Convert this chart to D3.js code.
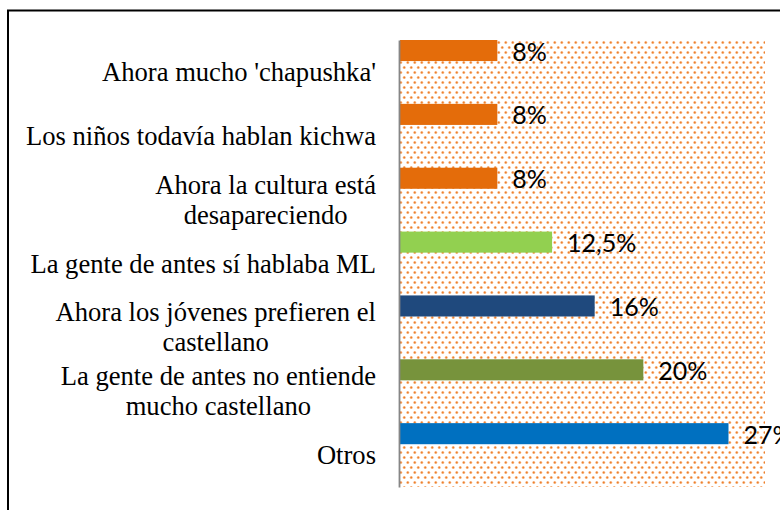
<!DOCTYPE html>
<html>
<head>
<meta charset="utf-8">
<script src="https://cdn.jsdelivr.net/npm/d3@7"></script>
<style>
  body { margin: 0; background: #fff; }
  svg { display: block; }
  .cat { font-family: "Liberation Serif", "DejaVu Serif", serif; font-size: 26.6px; }
  .val { font-family: Lato, "Open Sans", sans-serif; font-size: 25px; }
</style>
</head>
<body>
<div id="chart"></div>
<script>
const categories = [
  "Ahora mucho 'chapushka'",
  "Los niños todavía hablan kichwa",
  "Ahora la cultura está desapareciendo",
  "La gente de antes sí hablaba ML",
  "Ahora los jóvenes prefieren el castellano",
  "La gente de antes no entiende mucho castellano",
  "Otros"
];
const values = [8, 8, 8, 12.5, 16, 20, 27];
const valueLabels = ["8%", "8%", "8%", "12,5%", "16%", "20%", "27%"];
const barColors = ["#E46C0A", "#E46C0A", "#E46C0A", "#92D050", "#1F497D", "#77933C", "#0070C0"];

const width = 780, height = 510;
const plot = { left: 400, right: 765, top: 40, bottom: 487 };

let data = categories.map((c, i) => ({ cat: c, value: values[i], label: valueLabels[i], color: barColors[i] }));

let svg = d3.select("#chart")
  .append("svg")
  .attr("width", width)
  .attr("height", height);

// dotted background pattern
let pattern = svg.append("defs")
  .append("pattern")
  .attr("id", "dots")
  .attr("patternUnits", "userSpaceOnUse")
  .attr("width", 7)
  .attr("height", 10);
[[1.75, 2.5], [5.25, 7.5]].forEach(p => {
  pattern.append("circle").attr("cx", p[0]).attr("cy", p[1]).attr("r", 1.6).attr("fill", "#F9C9A2");
  pattern.append("circle").attr("cx", p[0]).attr("cy", p[1]).attr("r", 1).attr("fill", "#EE7F2C");
});

// outer frame
svg.append("rect")
  .attr("x", 8).attr("y", 10.5)
  .attr("width", 900).attr("height", 700)
  .attr("fill", "none")
  .attr("stroke", "#000")
  .attr("stroke-width", 2);

let x = d3.scaleLinear()
  .domain([0, 30])
  .range([plot.left, plot.right]);

let y = d3.scaleBand()
  .domain(categories)
  .range([plot.top, plot.bottom])
  .paddingInner(0);

let barH = y.bandwidth() * 0.33;

svg.append("rect")
  .attr("x", plot.left)
  .attr("y", plot.top)
  .attr("width", plot.right - plot.left)
  .attr("height", plot.bottom - plot.top)
  .attr("fill", "url(#dots)");

svg.selectAll("rect.bar")
  .data(data)
  .enter().append("rect")
  .attr("class", "bar")
  .attr("x", x(0))
  .attr("y", d => y(d.cat))
  .attr("width", d => x(d.value) - x(0))
  .attr("height", barH)
  .attr("fill", d => d.color);

// axis line
svg.append("g")
  .attr("transform", "translate(" + (plot.left - 1) + ",0)")
  .call(d3.axisLeft(y).tickSize(0).tickFormat(""))
  .call(g => g.select(".domain").attr("stroke", "#868686").attr("stroke-width", 1.8));

// value labels
svg.selectAll("text.val")
  .data(data)
  .enter().append("text")
  .attr("class", "val")
  .attr("x", d => x(d.value) + 15)
  .attr("y", d => y(d.cat) + barH / 2 + 10)
  .attr("fill", "#000")
  .text(d => d.label);

// category labels, wrapped and centred, block right-aligned
const labelRight = 376, maxW = 365, lineH = 30;

function wrapWords(text, measure) {
  let words = text.split(" ");
  let lines = [];
  let cur = [];
  words.forEach(w => {
    let test = cur.concat([w]).join(" ");
    if (cur.length && measure(test) > maxW) {
      lines.push(cur.join(" "));
      cur = [w];
    } else {
      cur.push(w);
    }
  });
  if (cur.length) lines.push(cur.join(" "));
  return lines;
}

let probe = svg.append("text").attr("class", "cat");
let measure = s => { probe.text(s); return probe.node().getComputedTextLength(); };

data.forEach(d => {
  let lines = wrapWords(d.cat, measure);
  let w = d3.max(lines, measure);
  let cy = y(d.cat) + y.bandwidth() / 2;
  let t = svg.append("text")
    .attr("class", "cat")
    .attr("fill", "#000")
    .attr("text-anchor", "middle");
  lines.forEach((ln, i) => {
    t.append("tspan")
      .attr("x", labelRight - w / 2)
      .attr("y", cy + (i - (lines.length - 1) / 2) * lineH + 9)
      .text(ln);
  });
});
probe.remove();
</script>
</body>
</html>
